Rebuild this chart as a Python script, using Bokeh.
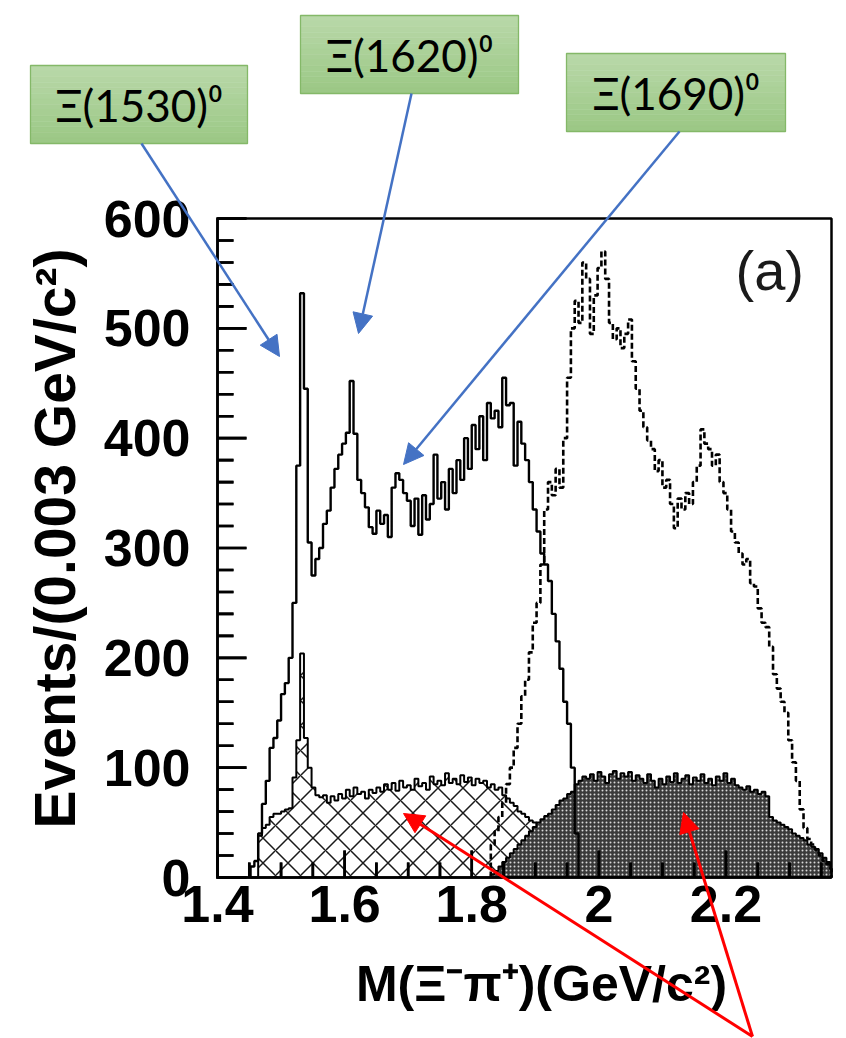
import numpy as np
from bokeh.plotting import figure
from bokeh.models import Range1d, LinearAxis, FixedTicker, Arrow, NormalHead, Label
from bokeh.embed import file_html
from bokeh.resources import INLINE

# ---------------- data ----------------
BIN_WIDTH = 0.006  # GeV/c^2 per plotted bin

# right-sign Xi- pi+ spectrum (solid line)
solid_start = 1.452
solid_counts = [10, 15, 40, 67, 88, 118, 127, 143, 167, 177,
                200, 250, 375, 532, 445, 305, 275, 290, 300, 322,
                334, 355, 372, 385, 395, 405, 452, 404, 362, 350,
                337, 319, 313, 334, 322, 330, 310, 355, 368, 362,
                350, 343, 320, 345, 312, 348, 326, 340, 385, 345,
                360, 335, 372, 350, 380, 362, 400, 372, 412, 390,
                420, 380, 432, 418, 425, 410, 455, 430, 432, 375,
                415, 395, 380, 360, 335, 315, 295, 285, 270, 240,
                215, 190, 160, 140, 100, 40]

# background (cross-hatched)
bkg_start = 1.452
bkg_counts = [0, 0, 38, 45, 48, 55, 58, 58, 60, 62,
              63, 91, 125, 204, 127, 100, 82, 75, 73, 75,
              68, 74, 70, 76, 72, 80, 74, 82, 76, 78,
              72, 80, 77, 82, 78, 85, 80, 86, 79, 88,
              82, 84, 80, 90, 83, 86, 80, 92, 85, 88,
              84, 95, 86, 90, 85, 93, 87, 91, 84, 90,
              86, 88, 82, 85, 80, 82, 75, 72, 68, 65,
              60, 58, 55, 52, 50, 47, 45, 42, 40, 35,
              30, 26, 22, 18, 14, 10, 6, 3]

# second spectrum (dashed line)
dashed_start = 1.830
dashed_counts = [30, 42, 55, 68, 85, 100, 118, 140, 165, 180,
                 205, 232, 250, 285, 335, 360, 348, 372, 355, 400,
                 455, 500, 525, 505, 560, 545, 495, 530, 555, 570,
                 545, 505, 490, 500, 482, 495, 508, 470, 445, 425,
                 410, 398, 390, 370, 380, 355, 362, 340, 318, 345,
                 335, 350, 340, 360, 375, 408, 395, 390, 375, 385,
                 360, 350, 335, 315, 305, 295, 285, 290, 268, 265,
                 245, 232, 228, 210, 185, 172, 160, 150, 125, 105,
                 88, 62, 45, 35, 30, 25, 20, 15, 12, 8]

# its background (dark filled)
dark_start = 1.830
dark_counts = [3, 6, 10, 14, 18, 22, 26, 30, 34, 38,
               42, 46, 50, 53, 56, 58, 62, 66, 70, 72,
               76, 78, 85, 88, 92, 90, 94, 88, 96, 92,
               86, 94, 97, 90, 95, 92, 96, 88, 93, 90,
               86, 94, 88, 82, 90, 85, 92, 87, 95, 86,
               90, 93, 85, 91, 88, 94, 86, 90, 84, 92,
               88, 95, 86, 90, 84, 82, 80, 83, 78, 80,
               76, 78, 74, 55, 52, 50, 48, 46, 44, 40,
               38, 36, 34, 30, 28, 26, 22, 18, 14, 8]

x_major_ticks = [1.4, 1.6, 1.8, 2.0, 2.2]
x_major_labels = ["1.4", "1.6", "1.8", "2", "2.2"]
x_minor_ticks = [1.45, 1.5, 1.55, 1.65, 1.7, 1.75, 1.85, 1.9, 1.95,
                 2.05, 2.1, 2.15, 2.25, 2.3, 2.35]
y_major_ticks = [0, 100, 200, 300, 400, 500, 600]
y_minor_ticks = [20, 40, 60, 80, 120, 140, 160, 180, 220, 240, 260, 280,
                 320, 340, 360, 380, 420, 440, 460, 480, 520, 540, 560, 580]

x_title = "M(\u039e\u207b\u03c0\u207a)(GeV/c\u00b2)"
y_title = "Events/(0.003 GeV/c\u00b2)"
panel_tag = "(a)"
state_names = ["\u039e(1530)\u2070", "\u039e(1620)\u2070", "\u039e(1690)\u2070"]

# ---------------- layout (pixels of the 846 x 1038 page) ----------------
W, H = 846, 1038
FL, FR, FT, FB = 217, 831, 218, 877          # plot box edges
X_MIN, X_MAX = 1.4, 2.366
Y_MIN, Y_MAX = 0, 600
SX = (FR - FL) / (X_MAX - X_MIN)
SY = (FB - FT) / (Y_MAX - Y_MIN)
MAJOR_TICK, MINOR_TICK = 29, 16              # inward tick lengths, px
X_TITLE_CENTER, Y_TITLE_CENTER = 541, 538    # px


def dx(px):
    return X_MIN + (px - FL) / SX


def dy(py):
    return Y_MIN + (FB - py) / SY


# annotation boxes: left, top, right, bottom (px) and arrow start/tip (px)
box_geom = [(30, 65, 247, 143), (300, 15, 518, 93), (566, 53, 785, 131)]
blue_arrows = [((141, 143), (279, 356)), ((411, 93), (358, 333)), ((679, 131), (403, 464))]
red_origin = (752, 1036)
red_tips = [(403, 813), (683, 812)]

p = figure(width=W, height=H, x_range=Range1d(dx(0), dx(W)), y_range=Range1d(dy(H), dy(0)),
           x_axis_location=None, y_axis_location=None, toolbar_location=None,
           output_backend="svg", min_border=0, outline_line_color=None,
           background_fill_color="white", border_fill_color="white", tools="")
p.xgrid.visible = False
p.ygrid.visible = False


def step_xy(start, counts):
    edges = start + BIN_WIDTH * np.arange(len(counts) + 1)
    edges = np.minimum(edges, X_MAX)
    xs = np.repeat(edges, 2)
    ys = np.concatenate([[0.0], np.repeat(np.asarray(counts, dtype=float), 2), [0.0]])
    return xs, ys


# cross-hatched background
bx, by = step_xy(bkg_start, bkg_counts)
p.varea(x=bx, y1=np.zeros_like(by), y2=by, fill_color="white",
        hatch_pattern="diagonal_cross", hatch_color="#1a1a1a", hatch_scale=25, hatch_weight=1.5)
p.line(bx, by, line_color="black", line_width=2)

# dark filled background
kx, ky = step_xy(dark_start, dark_counts)
p.varea(x=kx, y1=np.zeros_like(ky), y2=ky, fill_color="#3a3a3a",
        hatch_pattern="dot", hatch_color="#d8d8d8", hatch_scale=4, hatch_weight=1.2)
p.line(kx, ky, line_color="black", line_width=2)

# spectra
sx_, sy_ = step_xy(solid_start, solid_counts)
p.line(sx_, sy_, line_color="black", line_width=2.4)
qx, qy = step_xy(dashed_start, dashed_counts)
p.line(qx, qy, line_color="black", line_width=2.6, line_dash="6 3")

# plot box: top and right edges
p.line([X_MIN, X_MIN, X_MAX, X_MAX, X_MIN], [Y_MIN, Y_MAX, Y_MAX, Y_MIN, Y_MIN],
       line_color="black", line_width=2.5)

# left and bottom edges traced as one path each, stepping into every inward tick
y_len = {t: MAJOR_TICK for t in y_major_ticks}
y_len.update({t: MINOR_TICK for t in y_minor_ticks})
lx, ly = [X_MIN], [Y_MIN]
for t in sorted(y_len):
    lx += [X_MIN, X_MIN + y_len[t] / SX, X_MIN]
    ly += [t, t, t]
lx.append(X_MIN); ly.append(Y_MAX)
p.line(lx, ly, line_color="black", line_width=2.6, line_join="miter")

x_len = {t: MAJOR_TICK - 2 for t in x_major_ticks}
x_len.update({t: MINOR_TICK - 1 for t in x_minor_ticks})
hx, hy = [X_MIN], [Y_MIN]
for t in sorted(x_len):
    hx += [t, t, t]
    hy += [Y_MIN, Y_MIN + x_len[t] / SY, Y_MIN]
hx.append(X_MAX); hy.append(Y_MIN)
p.line(hx, hy, line_color="black", line_width=2.6, line_join="miter")

# same ticks as dash markers (belt and braces)
p.scatter(x=[X_MIN + y_len[t] / 2 / SX for t in sorted(y_len)], y=sorted(y_len),
          size=[y_len[t] for t in sorted(y_len)], marker="dash", line_color="black", line_width=2.6)
p.scatter(x=sorted(x_len), y=[Y_MIN + x_len[t] / 2 / SY for t in sorted(x_len)],
          size=[x_len[t] for t in sorted(x_len)], marker="dash", angle=np.pi / 2,
          line_color="black", line_width=2.6)

TICK_FONT = "Liberation Sans"
common = dict(axis_line_color=None,
              major_tick_in=0, major_tick_out=0, minor_tick_in=0, minor_tick_out=0,
              major_tick_line_color=None, minor_tick_line_color=None,
              major_label_text_font=TICK_FONT, major_label_text_font_style="bold",
              major_label_text_font_size="52px", major_label_text_color="black",
              axis_label_text_font=TICK_FONT, axis_label_text_font_style="bold",
              axis_label_text_color="black")

yaxis = LinearAxis(fixed_location=X_MIN, bounds=(Y_MIN, dy(2 * Y_TITLE_CENTER - FB)),
                   ticker=FixedTicker(ticks=y_major_ticks, minor_ticks=y_minor_ticks),
                   axis_label=y_title, major_label_standoff=27,
                   axis_label_text_font_size="57px", axis_label_standoff=14, **common)
xaxis = LinearAxis(fixed_location=Y_MIN, bounds=(X_MIN, X_MAX),
                   ticker=FixedTicker(ticks=x_major_ticks, minor_ticks=x_minor_ticks),
                   major_label_overrides=dict(zip(x_major_ticks, x_major_labels)),
                   major_label_standoff=8, **common)
# the mass-axis title, centred where the original puts it
xtitle_axis = LinearAxis(fixed_location=Y_MIN, bounds=(dx(2 * X_TITLE_CENTER - W), dx(W)),
                         ticker=FixedTicker(ticks=[], minor_ticks=[]),
                         axis_label=x_title, axis_label_text_font_size="50px",
                         axis_label_standoff=78, **common)
p.add_layout(yaxis, "left")
p.add_layout(xaxis, "below")
p.add_layout(xtitle_axis, "below")

# panel tag
p.add_layout(Label(x=dx(735), y=dy(270), text=panel_tag, text_align="left",
                   text_baseline="alphabetic", text_font=TICK_FONT,
                   text_font_size="56px", text_color="#1a1a1a"))

# green name boxes with a soft vertical gradient
N_STRIPS = 14
top_rgb = np.array([186, 217, 170])
bot_rgb = np.array([155, 200, 133])
lefts, rights, tops, bottoms, colors = [], [], [], [], []
for (l, t, r, b) in box_geom:
    for k in range(N_STRIPS):
        f = (k + 0.5) / N_STRIPS
        c = (top_rgb + (bot_rgb - top_rgb) * f).astype(int)
        lefts.append(dx(l)); rights.append(dx(r))
        tops.append(dy(t + (b - t) * k / N_STRIPS)); bottoms.append(dy(t + (b - t) * (k + 1) / N_STRIPS))
        colors.append("#%02x%02x%02x" % tuple(c))
p.quad(left=lefts, right=rights, top=tops, bottom=bottoms, fill_color=colors, line_color=colors, line_width=0.5)
p.quad(left=[dx(g[0]) for g in box_geom], right=[dx(g[2]) for g in box_geom],
       top=[dy(g[1]) for g in box_geom], bottom=[dy(g[3]) for g in box_geom],
       fill_color=None, line_color="#84b868", line_width=1.3)

for name, (l, t, r, b) in zip(state_names, box_geom):
    p.add_layout(Label(x=dx((l + r) / 2), y=dy((t + b) / 2), text=name,
                       text_align="center", text_baseline="middle",
                       text_font="Lato", text_font_size="44px", text_color="black"))

BLUE = "#4472C4"
for (s, e) in blue_arrows:
    p.add_layout(Arrow(x_start=dx(s[0]), y_start=dy(s[1]), x_end=dx(e[0]), y_end=dy(e[1]),
                       line_color=BLUE, line_width=2.5,
                       end=NormalHead(size=20, fill_color=BLUE, line_color=BLUE, line_width=1)))

RED = "#FF0000"
for e in red_tips:
    p.add_layout(Arrow(x_start=dx(red_origin[0]), y_start=dy(red_origin[1]),
                       x_end=dx(e[0]), y_end=dy(e[1]),
                       line_color=RED, line_width=3,
                       end=NormalHead(size=20, fill_color=RED, line_color=RED, line_width=1)))

with open("out.html", "w", encoding="utf-8") as fh:
    fh.write(file_html(p, INLINE))
